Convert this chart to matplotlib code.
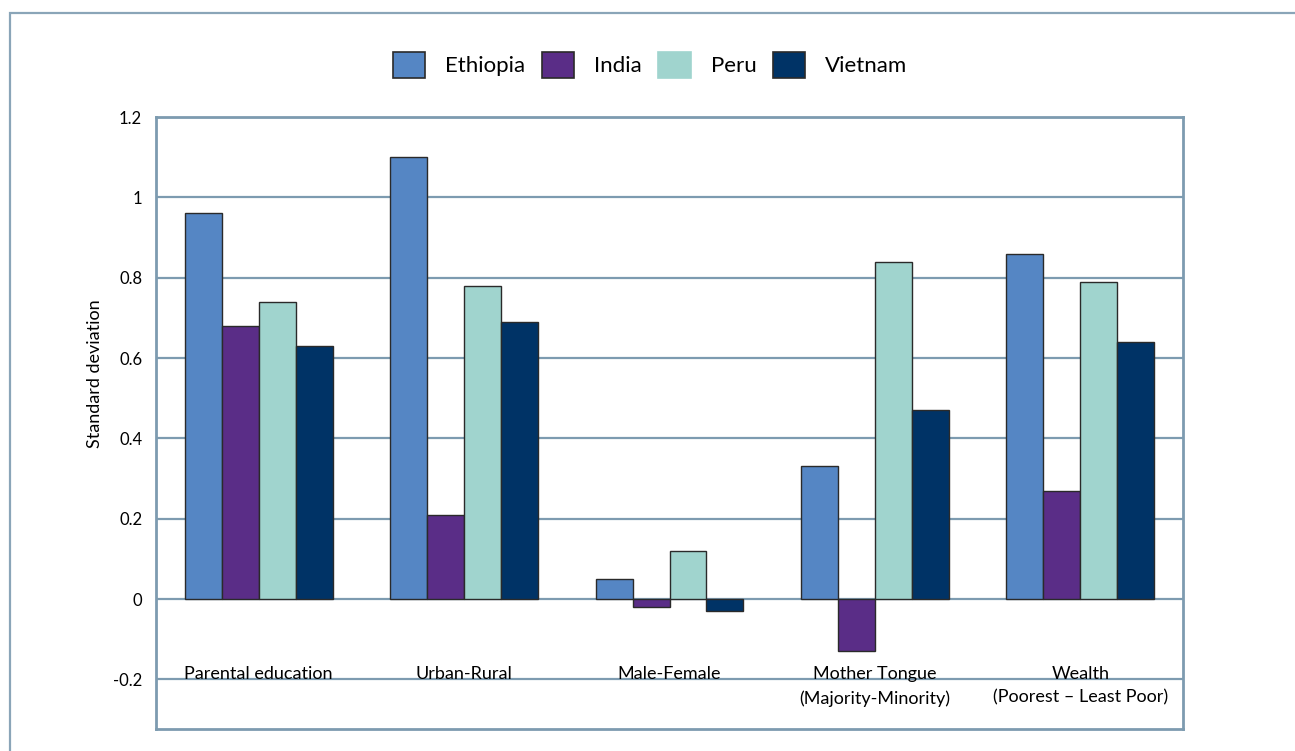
import matplotlib.pyplot as plt
import matplotlib.patches as patches
import numpy as np

plt.rcParams['font.family'] = ['Lato', 'DejaVu Sans']

categories = ['Parental education', 'Urban-Rural', 'Male-Female',
              'Mother Tongue\n(Majority-Minority)', 'Wealth\n(Poorest \u2013 Least Poor)']
countries = ['Ethiopia', 'India', 'Peru', 'Vietnam']
ethiopia = [0.96, 1.10, 0.05, 0.33, 0.86]
india = [0.68, 0.21, -0.02, -0.13, 0.27]
peru = [0.74, 0.78, 0.12, 0.84, 0.79]
vietnam = [0.63, 0.69, -0.03, 0.47, 0.64]
yticks = [-0.2, 0, 0.2, 0.4, 0.6, 0.8, 1, 1.2]
ytick_labels = ['-0.2', '0', '0.2', '0.4', '0.6', '0.8', '1', '1.2']

colors = ['#5586c4', '#5a2d87', '#a0d4ce', '#003366']
grid_col = '#7d9bb0'

fig = plt.figure(figsize=(12.95, 7.51), dpi=100)
ax = fig.add_axes([0.1205, 0.0293, 0.7930, 0.8149])

# outer frame of the figure
frame = patches.Rectangle((10 / 1295, -0.1), 1.2, 1 - 13 / 751 + 0.1, transform=fig.transFigure,
                          fill=False, edgecolor='#8aa5b8', linewidth=1.6)
fig.patches.append(frame)

x = np.arange(len(categories))
w = 0.18
series = [ethiopia, india, peru, vietnam]
for i, vals in enumerate(series):
    ax.bar(x + (i - 1.5) * w, vals, w, color=colors[i], edgecolor='#2a2a2a',
           linewidth=1.0, zorder=3, label=countries[i])

ax.set_xlim(-0.5, 4.5)
ax.set_ylim(-0.3236, 1.2)
ax.set_yticks(yticks)
ax.set_yticklabels(ytick_labels, fontsize=12)
ax.set_xticks([])
ax.tick_params(axis='y', length=0, pad=10)
ax.yaxis.grid(True, color=grid_col, linewidth=1.6, zorder=0)
for s in ax.spines.values():
    s.set_color(grid_col)
    s.set_linewidth(2)

for xi, lab in zip(x, categories):
    ax.text(xi, -0.168, lab, ha='center', va='top', fontsize=13, linespacing=1.55)

ax.set_ylabel('Standard deviation', fontsize=13)
ax.yaxis.set_label_coords(-0.052, 0.58)

handles = [patches.Patch(facecolor=colors[i], edgecolor='#2a2a2a' if i != 2 else colors[i],
                         linewidth=1.2) for i in range(4)]
fig.legend(handles, countries, loc='center', bbox_to_anchor=(0.502, 0.9134), ncol=4,
           frameon=False, fontsize=16, handlelength=1.45, handleheight=1.45,
           handletextpad=0.9, columnspacing=0.75)

fig.savefig('out.png', dpi=100)
